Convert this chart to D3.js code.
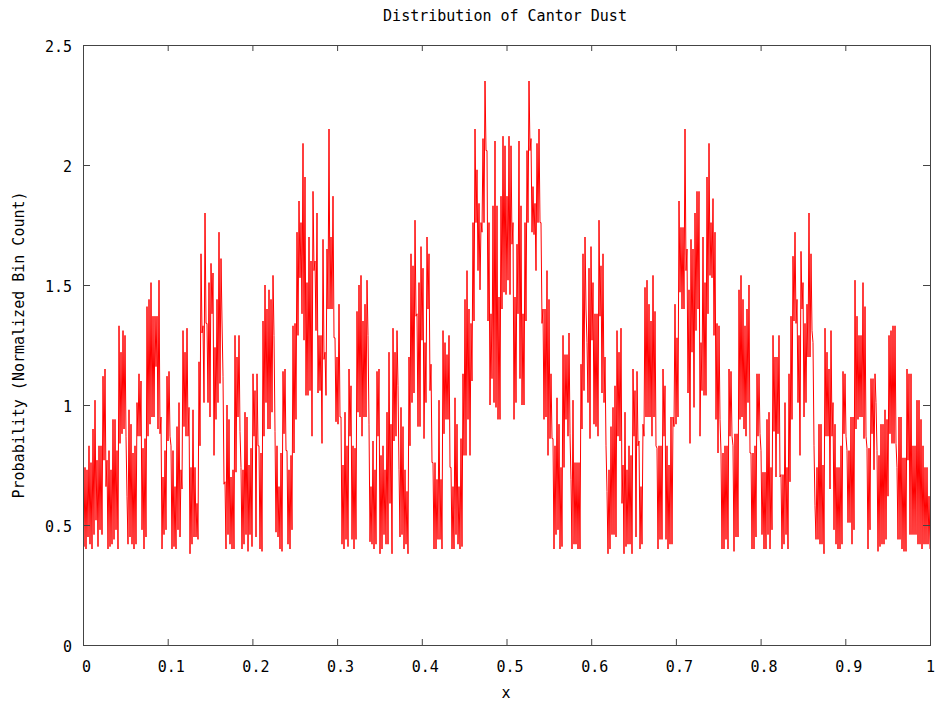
<!DOCTYPE html>
<html>
<head>
<meta charset="utf-8">
<script src="https://cdn.jsdelivr.net/npm/d3@7"></script>
<style>
  body { margin: 0; background: #fff; }
  svg { display: block; }
  text { font-family: "DejaVu Sans Mono", monospace; font-size: 15px; fill: #000; }
</style>
</head>
<body>
<svg id="chart" width="936" height="705"></svg>
<script>
// Axis ticks and labels
const xTicks = [0, 0.1, 0.2, 0.3, 0.4, 0.5, 0.6, 0.7, 0.8, 0.9, 1];
const xTickLabels = ["0", "0.1", "0.2", "0.3", "0.4", "0.5", "0.6", "0.7", "0.8", "0.9", "1"];
const yTicks = [0, 0.5, 1, 1.5, 2, 2.5];
const yTickLabels = ["0", "0.5", "1", "1.5", "2", "2.5"];

// Normalized bin counts, evenly spaced bins over [0, 1]
const density = [
  0.62,0.41, 0.74,0.40, 0.73,0.45, 0.83,0.42, 0.76,0.40, 0.90,0.46, 1.02,0.52, 0.77,0.41, 0.83,0.48, 0.83,0.46,
  1.12,0.77, 1.15,0.66, 0.77,0.40, 0.81,0.41, 0.73,0.42, 0.94,0.44, 0.94,0.48, 0.81,0.40, 1.33,0.84, 1.22,0.88,
  1.31,0.90, 1.29,0.87, 0.62,0.42, 0.98,0.45, 0.92,0.42, 0.80,0.40, 0.83,0.42, 1.01,0.87, 1.13,0.87, 1.10,0.48,
  0.82,0.40, 0.86,0.45, 1.41,0.87, 1.44,0.92, 1.51,0.95, 1.37,0.95, 1.37,1.16, 1.37,0.90, 1.52,0.88,

  0.95,0.40, 0.70,0.46, 0.81,0.48, 1.12,0.85, 1.14,0.87, 0.83,0.40, 0.81,0.41, 0.66,0.40, 0.91,0.48, 1.01,0.45,
  0.73,0.65, 1.31,0.91, 1.22,0.87, 1.32,0.87, 0.99,0.38, 0.74,0.42, 0.98,0.45, 0.74,0.45, 0.59,0.44, 1.18,0.83,
  1.63,1.30, 1.33,1.01, 1.80,1.34, 1.34,1.01, 1.51,0.95, 1.59,1.38, 1.55,0.79, 1.24,0.94, 1.44,1.01, 1.72,1.09,
  1.61,1.35, 1.12,0.67, 0.68,0.40, 1.00,0.46, 0.94,0.42, 0.70,0.40, 0.73,0.40, 1.29,0.72,

  1.20,0.95, 1.29,0.89, 0.74,0.40, 0.73,0.42, 0.97,0.46, 0.95,0.39, 0.75,0.46, 0.82,0.41, 1.13,0.87, 1.06,0.45,
  1.13,0.83, 0.83,0.40, 0.80,0.39, 1.35,0.87, 1.50,1.01, 1.40,0.90, 1.48,0.90, 1.44,0.97, 1.54,1.29, 0.89,0.47,
  0.83,0.45, 0.66,0.40, 0.80,0.39, 1.14,0.88, 1.15,0.81, 0.81,0.42, 0.73,0.40, 0.79,0.48, 1.33,0.80, 1.34,0.94,
  1.72,1.29, 1.85,1.53, 1.76,1.38, 2.09,1.27, 1.95,1.04, 1.51,1.04, 1.70,1.06, 1.60,0.87, 1.89,1.56,

  1.60,1.31, 1.80,1.05, 1.29,1.06, 1.29,0.84, 1.69,1.19, 1.22,1.04, 1.65,1.40, 2.15,1.40, 1.70,1.40, 1.87,1.28,
  1.28,0.93, 1.20,0.92, 1.42,0.95, 0.95,0.42, 0.75,0.40, 0.97,0.44, 0.83,0.41, 1.15,0.87, 1.08,0.44, 0.83,0.40,
  0.82,0.44, 1.39,0.97, 1.50,0.95, 1.54,0.87, 1.35,0.95, 1.42,0.95, 1.52,1.29, 0.92,0.43, 0.66,0.42, 0.85,0.40,
  0.73,0.42, 1.14,0.87, 1.15,0.38, 0.79,0.40, 0.83,0.46, 0.73,0.42, 0.97,0.42, 1.22,0.59,

  0.92,0.38, 1.32,0.85, 1.22,0.87, 1.31,1.08, 0.73,0.45, 0.99,0.46, 0.91,0.40, 0.73,0.42, 0.64,0.38, 1.20,0.83,
  1.63,1.01, 1.58,1.05, 1.77,1.37, 1.38,0.91, 1.51,0.91, 1.66,1.27, 1.57,0.86, 1.26,1.01, 1.70,1.40, 1.63,1.06,
  1.17,0.76, 0.76,0.40, 0.76,0.40, 0.69,0.44, 1.02,0.44, 0.69,0.40, 1.31,0.88, 1.26,0.94, 1.21,0.94, 1.29,0.74,
  0.74,0.40, 0.66,0.40, 1.03,0.46, 0.92,0.42, 0.66,0.40, 0.86,0.41, 1.13,0.79, 1.44,0.79, 1.56,0.94,

  1.40,0.79, 1.34,1.10, 1.76,1.35, 2.15,1.76, 1.98,1.56, 1.84,1.48, 1.76,1.72, 2.11,1.76, 2.35,2.06, 2.06,1.35,
  1.76,1.00, 1.38,1.11, 1.83,1.01, 2.10,0.99, 1.83,0.94, 1.45,0.94, 1.87,1.40, 2.12,1.47, 2.08,1.46, 1.87,1.52,
  2.12,1.46, 2.08,1.67, 1.76,0.94, 1.45,1.01, 1.67,1.38, 2.10,1.11, 1.83,1.00, 1.38,1.00, 1.76,1.35, 2.06,1.76,
  2.35,2.06, 2.11,1.72, 1.91,1.71, 1.84,1.56, 2.09,1.76, 2.15,1.76, 1.76,1.34, 1.40,0.94,

  1.40,0.95, 1.56,0.79, 1.44,0.86, 1.13,0.86, 0.86,0.40, 0.83,0.46, 1.03,0.48, 0.92,0.40, 0.74,0.41, 1.29,0.74,
  1.21,0.94, 1.21,0.87, 1.30,0.88, 0.69,0.40, 1.02,0.42, 0.76,0.42, 0.76,0.40, 0.76,0.40, 1.17,0.90, 1.63,1.06,
  1.70,1.40, 1.26,1.01, 1.57,0.86, 1.66,1.27, 1.51,0.92, 1.38,0.91, 1.38,0.87, 1.77,1.37, 1.58,1.05, 1.63,1.01,
  1.20,0.83, 0.64,0.38, 0.73,0.40, 0.91,0.46, 0.99,0.46, 1.08,0.45, 1.31,0.87, 1.22,0.85, 1.32,0.59,

  0.75,0.38, 0.97,0.41, 0.73,0.42, 0.83,0.42, 0.79,0.38, 1.15,0.87, 1.06,0.45, 1.14,0.83, 0.85,0.40, 0.66,0.42,
  0.92,0.87, 1.49,0.95, 1.52,0.95, 1.42,0.95, 1.35,0.87, 1.54,0.95, 1.39,0.83, 0.82,0.40, 0.83,0.44, 0.83,0.44,
  1.15,0.87, 1.08,0.44, 0.83,0.40, 0.75,0.42, 0.95,0.42, 0.95,0.91, 1.42,0.92, 1.28,0.95, 1.85,1.47, 1.74,1.40,
  1.74,1.40, 2.15,1.56, 1.65,1.05, 1.48,0.84, 1.69,1.22, 1.65,0.99, 1.80,1.31, 1.89,1.40,

  1.89,0.87, 1.26,1.06, 1.70,1.04, 1.51,1.04, 1.95,1.38, 2.09,1.54, 1.76,1.53, 1.86,1.29, 1.72,0.94, 1.34,0.80,
  1.33,0.94, 0.80,0.40, 0.80,0.40, 0.83,0.44, 0.83,0.40, 1.15,0.87, 1.14,0.87, 0.83,0.39, 0.88,0.45, 0.88,0.45,
  1.48,0.94, 1.54,0.95, 1.44,0.90, 1.33,0.87, 1.40,1.01, 1.50,0.80, 0.80,0.40, 0.80,0.40, 0.83,0.45, 1.13,0.87,
  1.13,0.88, 0.81,0.46, 0.72,0.40, 0.72,0.40, 0.94,0.46, 0.97,0.40, 0.74,0.48, 1.29,0.89,

  1.20,0.70, 1.20,0.88, 1.29,0.70, 0.71,0.40, 0.71,0.42, 1.01,0.46, 0.74,0.40, 1.13,0.68, 1.37,0.94, 1.62,1.35,
  1.72,1.34, 1.44,1.01, 1.29,0.79, 1.64,1.40, 1.51,0.95, 1.34,1.01, 1.42,1.20, 1.80,1.20, 1.63,1.31, 1.26,0.83,
  0.58,0.44, 0.74,0.44, 0.92,0.42, 0.92,0.42, 0.75,0.38, 1.32,0.87, 1.22,0.87, 1.15,0.65, 1.31,0.87, 1.01,0.48,
  0.92,0.42, 0.74,0.40, 0.74,0.40, 0.83,0.42, 1.14,0.88, 1.13,0.87, 0.81,0.51, 0.81,0.51, 0.95,0.42,

  0.95,0.48, 1.52,0.90, 1.37,0.94, 1.29,0.95, 1.29,0.95, 1.51,0.86, 1.41,0.87, 0.82,0.40, 0.82,0.48, 1.11,0.88,
  1.11,0.73, 1.13,1.01, 0.81,0.39, 0.79,0.41, 0.92,0.42, 0.92,0.42, 0.98,0.44, 0.94,0.62, 1.29,0.88, 1.31,0.84,
  1.33,0.84, 1.33,0.84, 0.74,0.44, 0.95,0.44, 0.95,0.40, 0.78,0.39, 0.78,0.39, 1.15,0.77, 1.13,0.46, 1.13,0.46,
  0.83,0.46, 0.83,0.46, 1.02,0.42, 1.02,0.42, 0.94,0.40, 0.83,0.42, 0.74,0.42, 0.74,0.42, 0.62,0.40
];

const W = 936, H = 705;
const plot = { left: 83, right: 930, top: 45, bottom: 645 };
const axisColor = "#444";

const svg = d3.select("#chart");

const x = d3.scaleLinear().domain([0, 1]).range([plot.left, plot.right]);
const y = d3.scaleLinear().domain([0, 2.5]).range([plot.bottom, plot.top]);

// Clip region for the data trace
svg.append("defs").append("clipPath").attr("id", "plot-clip")
  .append("rect")
  .attr("x", plot.left).attr("y", plot.top)
  .attr("width", plot.right - plot.left).attr("height", plot.bottom - plot.top);

// Data trace
const n = density.length;
const line = d3.line()
  .x((d, i) => x(i / (n - 1)))
  .y(d => y(d));

svg.append("path")
  .datum(density)
  .attr("clip-path", "url(#plot-clip)")
  .attr("fill", "none")
  .attr("stroke", "#ff0000")
  .attr("stroke-width", 1)
  .attr("stroke-linejoin", "bevel")
  .attr("d", line);

// Axes: ticks point inward and are mirrored on the top and right edges
function styleAxis(g) {
  g.select(".domain").remove();
  g.selectAll(".tick line").attr("stroke", axisColor).attr("stroke-width", 1);
}

const bottomAxis = d3.axisBottom(x)
  .tickValues(xTicks)
  .tickFormat((d, i) => xTickLabels[i])
  .tickSize(-6)
  .tickPadding(16);
svg.append("g")
  .attr("transform", `translate(0,${plot.bottom})`)
  .call(bottomAxis)
  .call(styleAxis)
  .call(g => g.selectAll(".tick text")
    .attr("dx", (d, i) => (i === xTicks.length - 1 ? 0 : 3))
    .attr("font-family", "DejaVu Sans Mono, monospace")
    .attr("font-size", 15)
    .attr("fill", "#000"));

svg.append("g")
  .attr("transform", `translate(0,${plot.top})`)
  .call(d3.axisTop(x).tickValues(xTicks).tickFormat("").tickSize(-6))
  .call(styleAxis);

const leftAxis = d3.axisLeft(y)
  .tickValues(yTicks)
  .tickFormat((d, i) => yTickLabels[i])
  .tickSize(-7)
  .tickPadding(11);
svg.append("g")
  .attr("transform", `translate(${plot.left},0)`)
  .call(leftAxis)
  .call(styleAxis)
  .call(g => g.selectAll(".tick text")
    .attr("dy", "0.45em")
    .attr("font-family", "DejaVu Sans Mono, monospace")
    .attr("font-size", 15)
    .attr("fill", "#000"));

svg.append("g")
  .attr("transform", `translate(${plot.right},0)`)
  .call(d3.axisRight(y).tickValues(yTicks).tickFormat("").tickSize(-7))
  .call(styleAxis);

// Plot border
svg.append("rect")
  .attr("x", plot.left).attr("y", plot.top)
  .attr("width", plot.right - plot.left).attr("height", plot.bottom - plot.top)
  .attr("fill", "none")
  .attr("stroke", axisColor)
  .attr("stroke-width", 1)
  .attr("shape-rendering", "crispEdges");

// Titles
svg.append("text")
  .attr("x", 505).attr("y", 21)
  .attr("text-anchor", "middle")
  .text("Distribution of Cantor Dust");

svg.append("text")
  .attr("x", 506).attr("y", 698)
  .attr("text-anchor", "middle")
  .text("x");

svg.append("text")
  .attr("transform", "translate(24,345) rotate(-90)")
  .attr("text-anchor", "middle")
  .text("Probability (Normalized Bin Count)");
</script>
</body>
</html>
